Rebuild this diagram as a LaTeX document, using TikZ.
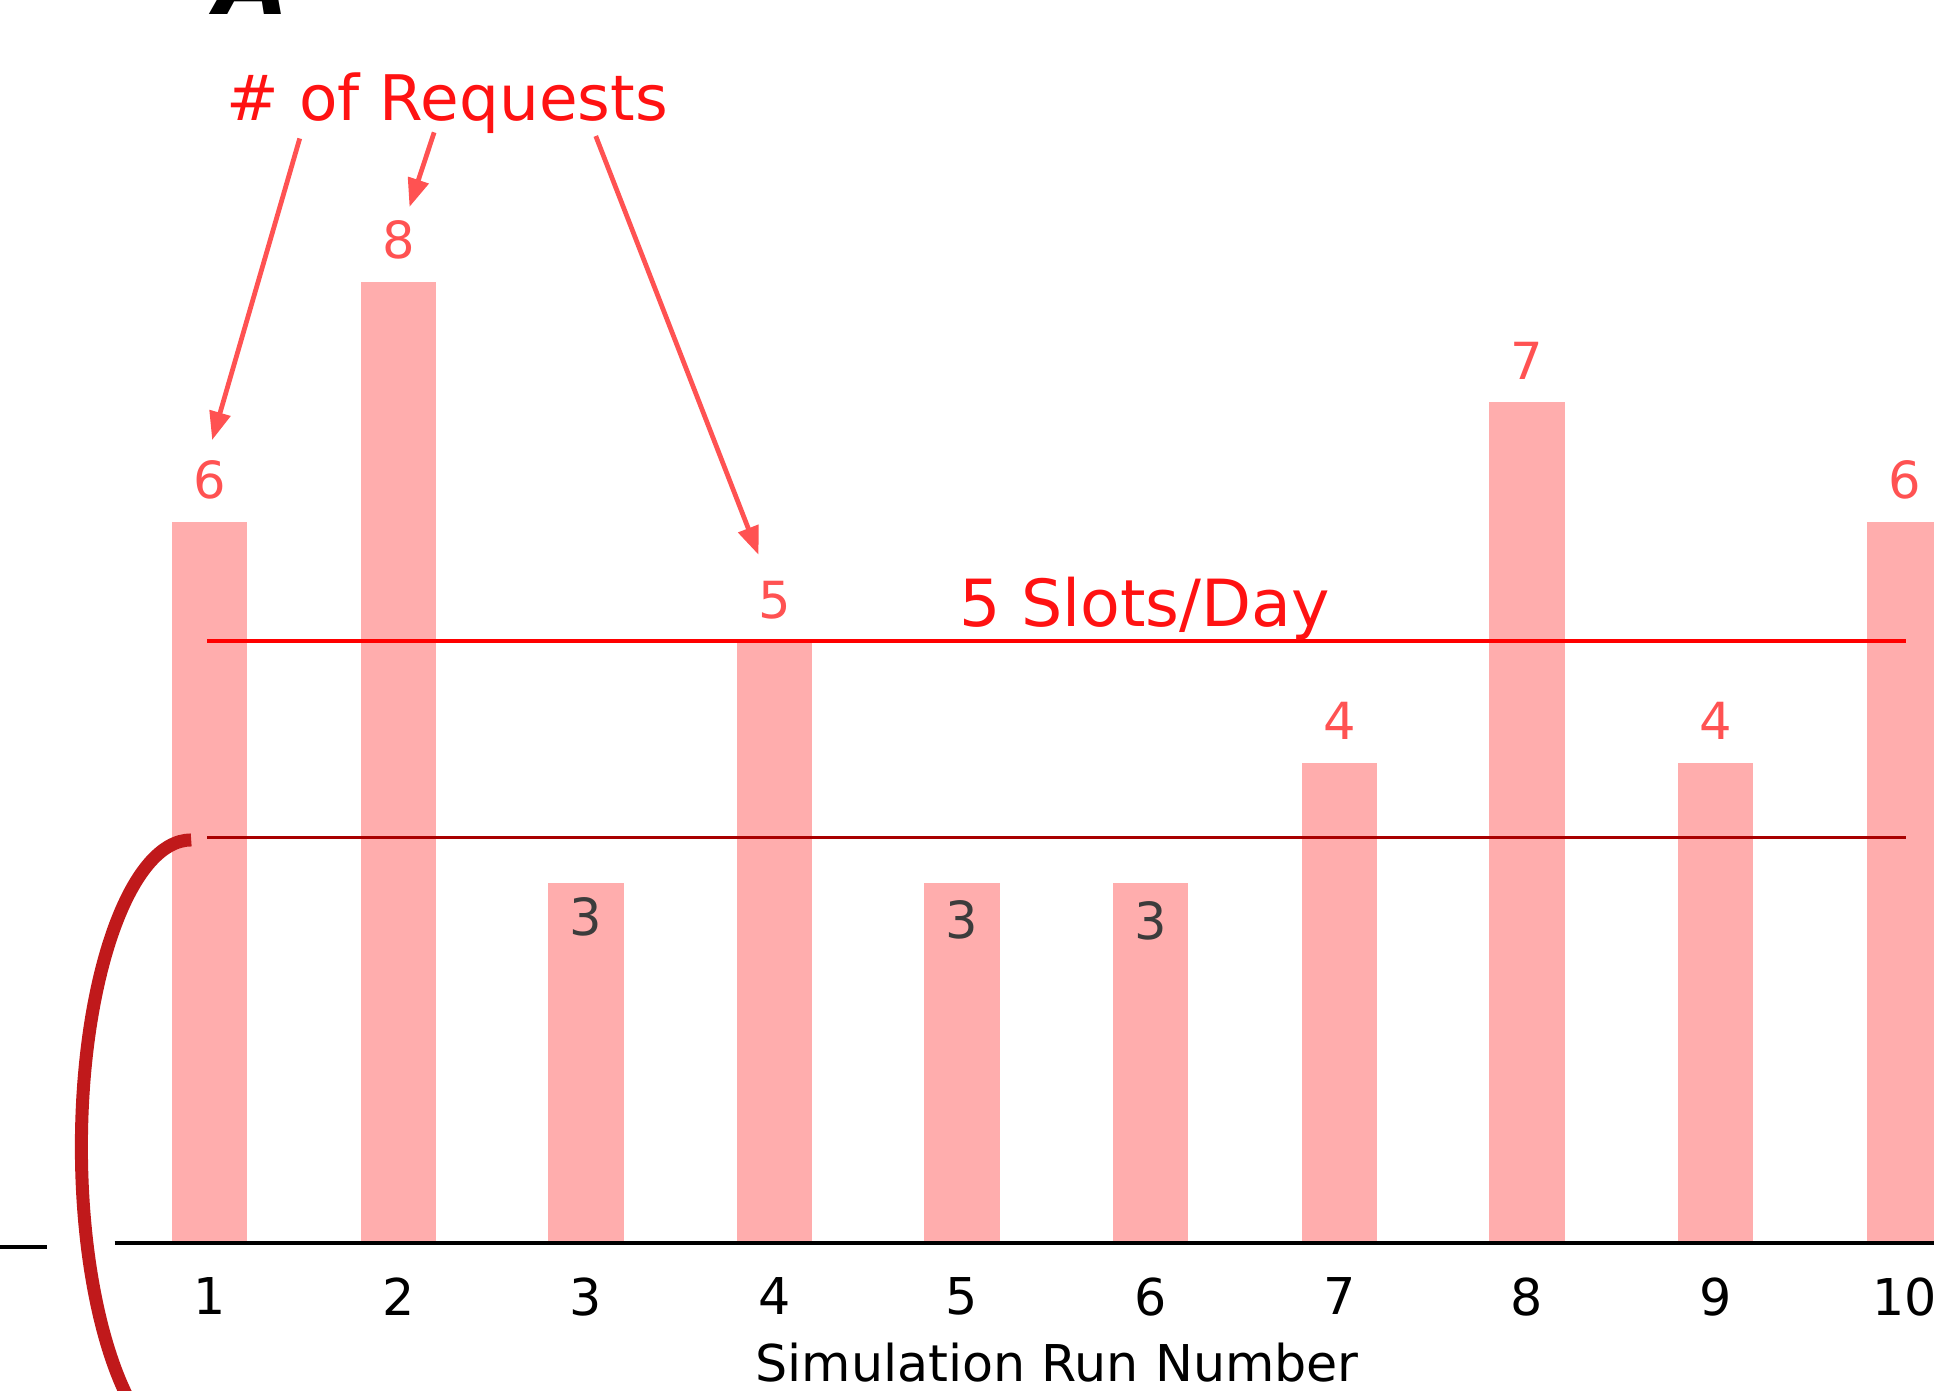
\documentclass[tikz,border=0pt]{standalone}
\usepackage{fontspec}
\setmainfont{DejaVu Sans}
\usepackage{tikz}
\usetikzlibrary{arrows.meta,positioning}

\definecolor{barpink}{HTML}{FFADAD}
\definecolor{valred}{HTML}{FF5252}
\definecolor{reqred}{HTML}{FF1212}
\definecolor{capred}{HTML}{FF0000}
\definecolor{lowred}{HTML}{A80000}
\definecolor{bracered}{HTML}{C0191B}
\definecolor{innergray}{HTML}{3C3C3C}

\begin{document}
\begin{tikzpicture}[
    bar/.style={fill=barpink, minimum width=0.61cm, inner sep=0pt, anchor=south},
    val/.style={text=valred, font=\fontsize{11.8}{14}\selectfont, inner sep=0pt},
    valin/.style={text=innergray, font=\fontsize{11.8}{14}\selectfont, inner sep=0pt},
    tick/.style={font=\fontsize{11.7}{14}\selectfont, inner sep=0pt},
    bigred/.style={text=reqred, font=\fontsize{14.5}{17}\selectfont, inner sep=0pt, anchor=base west},
    pointer/.style={draw=valred, line width=1.1pt, -{Triangle[length=0.23cm, width=0.17cm]}},
    slotline/.style={draw=capred, line width=0.9pt},
    lowline/.style={draw=lowred, line width=0.9pt},
    axis/.style={draw=black, line width=0.9pt}
]
    \useasboundingbox (0,0) rectangle (15.68,11.27);

    % panel letter, cut by the top edge
    \node[anchor=base, inner sep=0pt, font=\fontsize{22}{26}\selectfont\bfseries\itshape] (panel) at (2.05,11.15) {A};

    % bars
    \node[bar, minimum height=5.85cm] (b1) at (1.70,1.18) {};
    \node[bar, minimum height=7.80cm] (b2) at (3.23,1.18) {};
    \node[bar, minimum height=2.925cm] (b3) at (4.75,1.18) {};
    \node[bar, minimum height=4.875cm] (b4) at (6.28,1.18) {};
    \node[bar, minimum height=2.925cm] (b5) at (7.80,1.18) {};
    \node[bar, minimum height=2.925cm] (b6) at (9.33,1.18) {};
    \node[bar, minimum height=3.90cm] (b7) at (10.86,1.18) {};
    \node[bar, minimum height=6.825cm] (b8) at (12.38,1.18) {};
    \node[bar, minimum height=3.90cm] (b9) at (13.91,1.18) {};
    \node[bar, minimum height=5.85cm] (b10) at (15.44,1.18) {};

    % values
    \node[val, above=0.17cm of b1] (v1) {6};
    \node[val, above=0.17cm of b2] (v2) {8};
    \node[valin, below=0.12cm of b3.north] (v3) {3};
    \node[val, above=0.17cm of b4] (v4) {5};
    \node[valin, below=0.14cm of b5.north] (v5) {3};
    \node[valin, below=0.15cm of b6.north] (v6) {3};
    \node[val, above=0.17cm of b7] (v7) {4};
    \node[val, above=0.17cm of b8] (v8) {7};
    \node[val, above=0.17cm of b9] (v9) {4};
    \node[val, above=0.17cm of b10] (v10) {6};

    % capacity lines
    \draw[slotline] (1.68,6.07) -- (15.45,6.07);
    \draw[lowline] (1.68,4.48) -- (15.45,4.48);
    \node[bigred, font=\fontsize{15}{18}\selectfont] (slots) at (7.77,6.19) {5 Slots/Day};

    % axis
    \draw[axis] (0.93,1.19) -- (15.68,1.19);
    \draw[axis] (0,1.16) -- (0.38,1.16);
    \node[tick, below=0.26cm of b1.south] (t1) {1};
    \node[tick, below=0.26cm of b2.south] (t2) {2};
    \node[tick, below=0.26cm of b3.south] (t3) {3};
    \node[tick, below=0.26cm of b4.south] (t4) {4};
    \node[tick, below=0.26cm of b5.south] (t5) {5};
    \node[tick, below=0.26cm of b6.south] (t6) {6};
    \node[tick, below=0.26cm of b7.south] (t7) {7};
    \node[tick, below=0.26cm of b8.south] (t8) {8};
    \node[tick, below=0.26cm of b9.south] (t9) {9};
    \node[tick, below=0.26cm of b10.south] (t10) {10};
    \node[tick] (xlab) at (8.57,0.22) {Simulation Run Number};

    % request label and pointers
    \node[bigred] (req) at (1.83,10.29) {\# of Requests};
    \draw[pointer] ([xshift=0.60cm, yshift=-0.03cm]req.south west) -- ([shift={(0.02cm,0.16cm)}]v1.north);
    \draw[pointer] ([xshift=1.69cm, yshift=0.02cm]req.south west) -- ([shift={(0.09cm,0.10cm)}]v2.north);
    \draw[pointer] ([xshift=3.00cm, yshift=-0.01cm]req.south west) -- ([shift={(-0.13cm,0.21cm)}]v4.north);

    % brace
    \draw[bracered, line width=3pt] (1.55,4.46) arc[start angle=90, end angle=235, x radius=0.89cm, y radius=2.49cm];
\end{tikzpicture}
\end{document}
